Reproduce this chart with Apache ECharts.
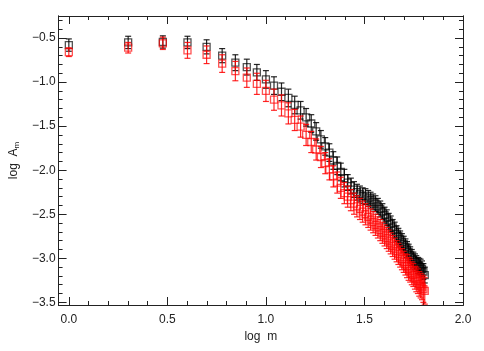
<!DOCTYPE html>
<html>
<head>
<meta charset="utf-8">
<script src="https://cdn.jsdelivr.net/npm/echarts@6/dist/echarts.min.js"></script>
<style>
  html, body { margin: 0; padding: 0; background: #fff; }
  #chart { width: 484px; height: 351px; }
</style>
</head>
<body>
<div id="chart"></div>
<script>
// log m for m = 1 .. 64
var logM = [0.000, 0.301, 0.477, 0.602, 0.699, 0.778, 0.845, 0.903, 0.954, 1.000,
  1.041, 1.079, 1.114, 1.146, 1.176, 1.204, 1.230, 1.255, 1.279, 1.301,
  1.322, 1.342, 1.362, 1.380, 1.398, 1.415, 1.431, 1.447, 1.462, 1.477,
  1.491, 1.505, 1.519, 1.531, 1.544, 1.556, 1.568, 1.580, 1.591, 1.602,
  1.613, 1.623, 1.633, 1.643, 1.653, 1.663, 1.672, 1.681, 1.690, 1.699,
  1.708, 1.716, 1.724, 1.732, 1.740, 1.748, 1.756, 1.763, 1.771, 1.778,
  1.785, 1.792, 1.799, 1.806];

var blackLogA = [-0.58, -0.55, -0.545, -0.55, -0.60, -0.70, -0.78, -0.83, -0.89, -0.97,
  -1.04, -1.11, -1.18, -1.26, -1.32, -1.40, -1.47, -1.56, -1.65, -1.73,
  -1.80, -1.89, -1.95, -2.02, -2.09, -2.14, -2.18, -2.22, -2.25, -2.27,
  -2.29, -2.30, -2.32, -2.34, -2.36, -2.38, -2.41, -2.44, -2.47, -2.51,
  -2.54, -2.58, -2.61, -2.65, -2.68, -2.72, -2.75, -2.78, -2.81, -2.84,
  -2.87, -2.90, -2.93, -2.96, -2.99, -3.02, -3.04, -3.06, -3.08, -3.09,
  -3.10, -3.12, -3.15, -3.19];
var blackErr = [0.07, 0.07, 0.07, 0.07, 0.08, 0.08, 0.09, 0.09, 0.09, 0.10,
  0.10, 0.10, 0.10, 0.10, 0.10, 0.10, 0.10, 0.10, 0.10, 0.10,
  0.10, 0.10, 0.10, 0.10, 0.10, 0.09, 0.09, 0.09, 0.09, 0.09,
  0.09, 0.09, 0.09, 0.09, 0.09, 0.09, 0.09, 0.09, 0.09, 0.09,
  0.09, 0.09, 0.09, 0.09, 0.09, 0.09, 0.09, 0.09, 0.09, 0.09,
  0.09, 0.09, 0.09, 0.09, 0.09, 0.09, 0.09, 0.09, 0.09, 0.09,
  0.09, 0.09, 0.09, 0.09];

var redLogA = [-0.66, -0.61, -0.56, -0.64, -0.69, -0.79, -0.875, -0.95, -1.02, -1.10,
  -1.20, -1.265, -1.355, -1.43, -1.505, -1.60, -1.68, -1.765, -1.85, -1.92,
  -1.99, -2.07, -2.14, -2.20, -2.26, -2.30, -2.34, -2.38, -2.41, -2.44,
  -2.47, -2.50, -2.53, -2.56, -2.59, -2.62, -2.65, -2.68, -2.71, -2.74,
  -2.77, -2.80, -2.83, -2.86, -2.89, -2.92, -2.95, -2.98, -3.01, -3.04,
  -3.07, -3.09, -3.12, -3.14, -3.17, -3.19, -3.22, -3.24, -3.26, -3.29,
  -3.31, -3.33, -3.35, -3.37];
var redErr = [0.05, 0.06, 0.07, 0.09, 0.10, 0.10, 0.11, 0.11, 0.12, 0.12,
  0.12, 0.12, 0.12, 0.12, 0.12, 0.12, 0.12, 0.12, 0.12, 0.12,
  0.12, 0.12, 0.12, 0.12, 0.12, 0.12, 0.12, 0.12, 0.12, 0.12,
  0.12, 0.12, 0.12, 0.12, 0.12, 0.12, 0.12, 0.12, 0.12, 0.12,
  0.12, 0.12, 0.12, 0.12, 0.12, 0.12, 0.12, 0.12, 0.12, 0.12,
  0.12, 0.13, 0.13, 0.13, 0.13, 0.13, 0.13, 0.14, 0.14, 0.14,
  0.14, 0.14, 0.15, 0.15];

// tick positions
var xMajor = [0, 0.5, 1.0, 1.5, 2.0];
var xMinor = [0.1, 0.2, 0.3, 0.4, 0.6, 0.7, 0.8, 0.9, 1.1, 1.2, 1.3, 1.4, 1.6, 1.7, 1.8, 1.9];
var yMajor = [-3.5, -3.0, -2.5, -2.0, -1.5, -1.0, -0.5];
var yMinor = [-3.4, -3.3, -3.2, -3.1, -2.9, -2.8, -2.7, -2.6, -2.4, -2.3, -2.2, -2.1,
  -1.9, -1.8, -1.7, -1.6, -1.4, -1.3, -1.2, -1.1, -0.9, -0.8, -0.7, -0.6, -0.4, -0.3];

var X_MIN = -0.052, X_MAX = 2.0, Y_MIN = -3.53, Y_MAX = -0.25;
var FONT = 'Liberation Sans';
var INK = '#222';

function pts(xs, ys) {
  return xs.map(function (x, i) { return [x, ys[i]]; });
}
function errPts(xs, ys, es) {
  return xs.map(function (x, i) { return [x, ys[i] - es[i], ys[i] + es[i]]; });
}
function minus(v) {
  return v.toFixed(1).replace('-', '\u2212');
}

function errorBars(color) {
  return function (params, api) {
    var x = api.value(0);
    var lo = api.coord([x, api.value(1)]);
    var hi = api.coord([x, api.value(2)]);
    var w = 3;
    var style = { stroke: color, lineWidth: 1.2 };
    return {
      type: 'group',
      children: [
        { type: 'line', shape: { x1: lo[0], y1: lo[1], x2: hi[0], y2: hi[1] }, style: style },
        { type: 'line', shape: { x1: lo[0] - w, y1: lo[1], x2: lo[0] + w, y2: lo[1] }, style: style },
        { type: 'line', shape: { x1: hi[0] - w, y1: hi[1], x2: hi[0] + w, y2: hi[1] }, style: style }
      ]
    };
  };
}

function xAx(pos, ticks, len, labels) {
  return {
    type: 'value', position: pos, min: X_MIN, max: X_MAX,
    axisLine: { show: true, onZero: false, lineStyle: { color: INK, width: 1 } },
    splitLine: { show: false },
    axisTick: { show: true, inside: true, length: len, customValues: ticks, lineStyle: { color: INK } },
    axisLabel: labels ? { show: true, customValues: xMajor, color: INK, fontFamily: FONT, fontSize: 12, margin: 9,
      formatter: function (v) { return v.toFixed(1); } } : { show: false },
    name: labels ? 'log  m' : '',
    nameLocation: 'middle', nameGap: 26,
    nameTextStyle: { color: INK, fontFamily: FONT, fontSize: 12 }
  };
}
function yAx(pos, ticks, len, labels) {
  return {
    type: 'value', position: pos, min: Y_MIN, max: Y_MAX,
    axisLine: { show: true, onZero: false, lineStyle: { color: INK, width: 1 } },
    splitLine: { show: false },
    axisTick: { show: true, inside: true, length: len, customValues: ticks, lineStyle: { color: INK } },
    axisLabel: labels ? { show: true, customValues: yMajor, color: INK, fontFamily: FONT, fontSize: 12, margin: 3,
      formatter: minus } : { show: false },
    name: labels ? '{a|log  A}{s|m}' : '',
    nameLocation: 'middle', nameGap: 33,
    nameTextStyle: { color: INK, fontFamily: FONT, fontSize: 12,
      rich: { a: { fontFamily: FONT, fontSize: 12, color: INK }, s: { fontFamily: FONT, fontSize: 8, color: INK, verticalAlign: 'bottom', padding: [6, 0, 0, 0] } } }
  };
}

var chart = echarts.init(document.getElementById('chart'));
var option = {
  animation: false,
  backgroundColor: '#fff',
  grid: { left: 55, right: 21, top: 16, bottom: 46 },
  xAxis: [xAx('bottom', xMajor, 8, true), xAx('top', xMajor, 8, false),
    xAx('bottom', xMinor, 4, false), xAx('top', xMinor, 4, false)],
  yAxis: [yAx('left', yMajor, 8, true), yAx('right', yMajor, 8, false),
    yAx('left', yMinor, 4, false), yAx('right', yMinor, 4, false)],
  series: [
    { type: 'custom', renderItem: errorBars('rgba(0,0,0,0.85)'), data: errPts(logM, blackLogA, blackErr), z: 2 },
    { type: 'scatter', data: pts(logM, blackLogA), symbol: 'rect', symbolSize: 7,
      itemStyle: { color: 'rgba(0,0,0,0)', borderColor: 'rgba(0,0,0,0.85)', borderWidth: 1.3 }, z: 3 },
    { type: 'custom', renderItem: errorBars('rgba(255,0,0,0.85)'), data: errPts(logM, redLogA, redErr), z: 4 },
    { type: 'scatter', data: pts(logM, redLogA), symbol: 'rect', symbolSize: 7,
      itemStyle: { color: 'rgba(0,0,0,0)', borderColor: 'rgba(255,0,0,0.85)', borderWidth: 1.3 }, z: 5 }
  ]
};
chart.setOption(option);
</script>
</body>
</html>
